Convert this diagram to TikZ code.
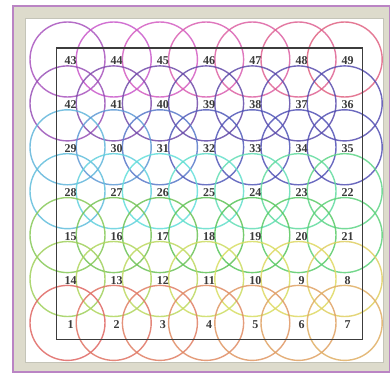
\documentclass[tikz,border=0pt]{standalone}
\usepackage{fontspec}
\setmainfont{Liberation Serif}
\definecolor{framepurple}{RGB}{186,132,196}
\definecolor{bandbeige}{RGB}{221,219,204}
\definecolor{bandline}{RGB}{196,196,184}
\definecolor{labelgray}{RGB}{58,58,58}
\definecolor{boxline}{RGB}{60,60,60}
\begin{document}
\begin{tikzpicture}[x=1pt,y=-1pt,
  ring/.style={circle, inner sep=0pt, minimum size=75pt, line width=1.4pt, draw opacity=0.85},
  num/.style={font=\bfseries\fontsize{12}{13}\selectfont, text=labelgray, inner sep=0pt},
  outerframe/.style={draw=framepurple, line width=1.5pt, fill=bandbeige},
  innerframe/.style={draw=bandline, line width=1pt, fill=white},
  gridbox/.style={draw=boxline, line width=1.4pt}
]
\useasboundingbox (0,0) rectangle (390,374);
\fill[white] (0,0) rectangle (390,374);
\draw[outerframe] (13,6) rectangle (389.5,372);
\draw[innerframe] (25.5,18.5) rectangle (383,362);
\foreach \j in {0,...,6}{
 \foreach \i in {0,...,6}{
  \pgfmathtruncatemacro\r{6-\j}
  \pgfmathtruncatemacro\n{mod(\r,2)==0 ? 7*\r+\i+1 : 7*\r+7-\i}
  \pgfmathsetmacro\hdeg{{2,8,13,19,25,30,36,52,57,63,68,74,79,85,95,102,108,115,122,128,135,140,150,160,170,178,187,195,198,210,223,235,237,240,242,245,248,252,255,264,273,282,288,299,309,320,328,337,345}[\n-1]}
  \pgfmathsetmacro\hh{\hdeg/360}
  \pgfmathsetmacro\da{(\hdeg-110)/30}
  \pgfmathsetmacro\db{(\hdeg-260)/40}
  \pgfmathsetmacro\bb{0.88-0.12*exp(-(\da)*(\da))-0.22*exp(-(\db)*(\db))}
  \convertcolorspec{hsb}{\hh,0.56,\bb}{rgb}\tmpspec
  \definecolor{cc}{rgb}{\tmpspec}
  \pgfmathsetmacro\cx{67.5+46.2*\i}
  \pgfmathsetmacro\cy{59.5+43.9*\j}
  \node[ring, draw=cc] (c\n) at (\cx,\cy) {};
 }
}
\draw[gridbox] (56.5,48) rectangle (362.5,339.5);
\foreach \n in {1,...,49}{
  \node[num] (l\n) at ([shift={(3,1.5)}]c\n.center) {\n};
}
\end{tikzpicture}
\end{document}
